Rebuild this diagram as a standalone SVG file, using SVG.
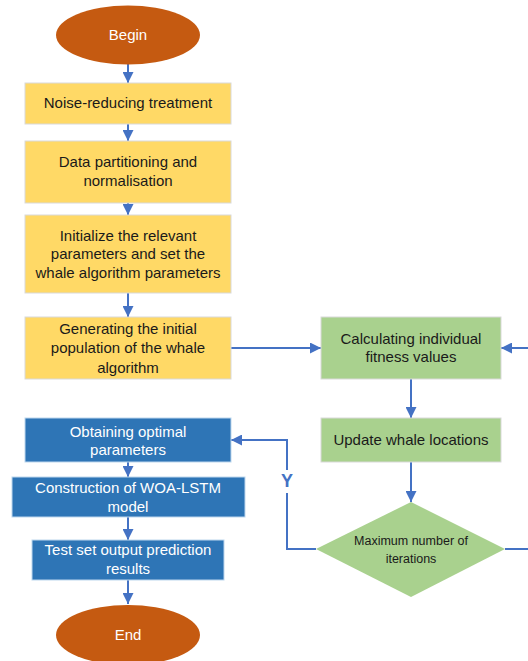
<svg xmlns="http://www.w3.org/2000/svg" width="528" height="661" viewBox="0 0 528 661">
  <style>
    .t { font-family: "Liberation Sans", Arial, sans-serif; font-size: 15px; text-anchor: middle; fill: #1a1a1a; }
    .w { fill: #ffffff; }
    .s { font-size: 12.5px; }
    .yel { fill: #FFD966; stroke: #D9D9D9; stroke-width: 1; }
    .grn { fill: #A9D18E; stroke: #D9D9D9; stroke-width: 1; }
    .blu { fill: #2E75B6; stroke: #BDD7EE; stroke-width: 1; }
    .ora { fill: #C55A11; }
    .ln { fill: none; stroke: #4472C4; stroke-width: 2; }
    .lbl { font-family: "Liberation Sans", Arial, sans-serif; font-size: 18px; font-weight: bold; fill: #4472C4; text-anchor: middle; }
  </style>
  <defs>
    <marker id="ah" viewBox="0 0 10 10" refX="10" refY="5" markerWidth="5.5" markerHeight="5.5" orient="auto" markerUnits="strokeWidth">
      <path d="M0,0 L10,5 L0,10 Z" fill="#4472C4"/>
    </marker>
  </defs>
  <rect width="528" height="661" fill="#ffffff"/>

  <g id="connectors">
    <path class="ln" d="M128,64 V83" marker-end="url(#ah)"/>
    <path class="ln" d="M128,124 V141" marker-end="url(#ah)"/>
    <path class="ln" d="M128,203 V215" marker-end="url(#ah)"/>
    <path class="ln" d="M128,293 V317" marker-end="url(#ah)"/>
    <path class="ln" d="M231,348 H321" marker-end="url(#ah)"/>
    <path class="ln" d="M528,348 H501" marker-end="url(#ah)"/>
    <path class="ln" d="M411,379 V418" marker-end="url(#ah)"/>
    <path class="ln" d="M411,462 V502" marker-end="url(#ah)"/>
    <path class="ln" d="M505,549 H528"/>
    <!-- "Y" branch: the label sits in a gap of the return line -->
    <path class="ln" d="M316,549 H287 V493"/>
    <path class="ln" d="M287,470 V440 H231" marker-end="url(#ah)"/>
    <text class="lbl" x="287" y="487">Y</text>
    <path class="ln" d="M128,462 V477" marker-end="url(#ah)"/>
    <path class="ln" d="M128,517 V540" marker-end="url(#ah)"/>
    <path class="ln" d="M128,580 V604" marker-end="url(#ah)"/>
  </g>

  <g id="begin">
    <ellipse class="ora" cx="128" cy="35" rx="72" ry="29.5"/>
    <text class="t w" x="128" y="40">Begin</text>
  </g>

  <g id="noise">
    <rect class="yel" x="25" y="83" width="206" height="41"/>
    <text class="t" x="128" y="108">Noise-reducing treatment</text>
  </g>

  <g id="partition">
    <rect class="yel" x="25" y="141" width="206" height="62"/>
    <text class="t" x="128" y="167">Data partitioning and</text>
    <text class="t" x="128" y="186">normalisation</text>
  </g>

  <g id="init">
    <rect class="yel" x="25" y="215" width="206" height="78"/>
    <text class="t" x="128" y="241">Initialize the relevant</text>
    <text class="t" x="128" y="259">parameters and set the</text>
    <text class="t" x="128" y="278">whale algorithm parameters</text>
  </g>

  <g id="population">
    <rect class="yel" x="25" y="317" width="206" height="62"/>
    <text class="t" x="128" y="334">Generating the initial</text>
    <text class="t" x="128" y="353">population of the whale</text>
    <text class="t" x="128" y="373">algorithm</text>
  </g>

  <g id="fitness">
    <rect class="grn" x="321" y="317" width="180" height="62"/>
    <text class="t" x="411" y="344">Calculating individual</text>
    <text class="t" x="411" y="362">fitness values</text>
  </g>

  <g id="update">
    <rect class="grn" x="321" y="418" width="180" height="44"/>
    <text class="t" x="411" y="445">Update whale locations</text>
  </g>

  <g id="maxiter">
    <polygon fill="#A9D18E" points="411,502 505,549 411,597 316,549"/>
    <text class="t s" x="411" y="545">Maximum number of</text>
    <text class="t s" x="411" y="563">iterations</text>
  </g>

  <g id="optimal">
    <rect class="blu" x="25" y="418" width="206" height="44"/>
    <text class="t w" x="128" y="437">Obtaining optimal</text>
    <text class="t w" x="128" y="455">parameters</text>
  </g>

  <g id="construct">
    <rect class="blu" x="12" y="477" width="233" height="40"/>
    <text class="t w" x="128" y="493">Construction of WOA-LSTM</text>
    <text class="t w" x="128" y="512">model</text>
  </g>

  <g id="test">
    <rect class="blu" x="32" y="540" width="192" height="40"/>
    <text class="t w" x="128" y="555">Test set output prediction</text>
    <text class="t w" x="128" y="574">results</text>
  </g>

  <g id="end">
    <ellipse class="ora" cx="128" cy="635" rx="72" ry="30"/>
    <text class="t w" x="128" y="640">End</text>
  </g>
</svg>
